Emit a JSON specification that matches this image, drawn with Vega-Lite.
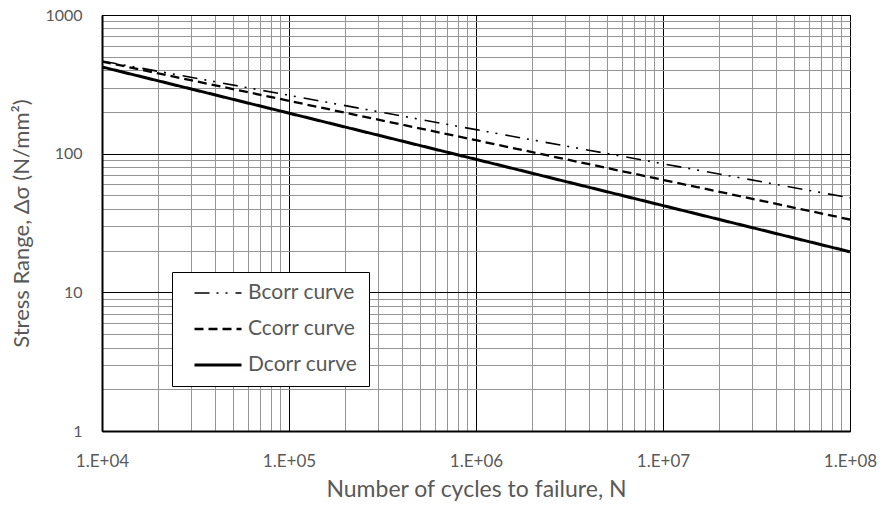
{
  "$schema": "https://vega.github.io/schema/vega-lite/v6.json",
  "width": 748,
  "height": 416,
  "autosize": "none",
  "padding": {"left": 102, "top": 15, "right": 36, "bottom": 79},
  "background": "white",
  "config": {
    "view": {"stroke": "#000", "strokeWidth": 1},
    "font": "Lato"
  },
  "data": {
    "values": [
      {"N": 10000, "S": 466, "curve": "Bcorr curve"},
      {"N": 1000000, "S": 149, "curve": "Bcorr curve"},
      {"N": 100000000, "S": 48, "curve": "Bcorr curve"},
      {"N": 10000, "S": 462, "curve": "Ccorr curve"},
      {"N": 1000000, "S": 125, "curve": "Ccorr curve"},
      {"N": 100000000, "S": 33.5, "curve": "Ccorr curve"},
      {"N": 10000, "S": 422, "curve": "Dcorr curve"},
      {"N": 1000000, "S": 91, "curve": "Dcorr curve"},
      {"N": 100000000, "S": 19.6, "curve": "Dcorr curve"}
    ]
  },
  "mark": {"type": "line", "color": "#000", "clip": true},
  "encoding": {
    "x": {
      "field": "N", "type": "quantitative",
      "scale": {"type": "log", "domain": [10000, 100000000], "nice": false},
      "title": "Number of cycles to failure, N",
      "axis": {
        "values": [10000,20000,30000,40000,50000,60000,70000,80000,90000,100000,200000,300000,400000,500000,600000,700000,800000,900000,1000000,2000000,3000000,4000000,5000000,6000000,7000000,8000000,9000000,10000000,20000000,30000000,40000000,50000000,60000000,70000000,80000000,90000000,100000000],
        "labelExpr": "abs(log(datum.value)/LN10 - round(log(datum.value)/LN10)) < 1e-6 ? '1.E+0' + round(log(datum.value)/LN10) : ''",
        "labelOverlap": false,
        "labelBound": false,
        "labelFlush": false,
        "labelFont": "Lato",
        "labelFontSize": 17,
        "labelColor": "#595959",
        "labelPadding": 22,
        "ticks": false,
        "domainColor": "#000",
        "domainWidth": 2,
        "grid": true,
        "gridColor": {"condition": {"test": "abs(log(datum.value)/LN10 - round(log(datum.value)/LN10)) < 1e-6", "value": "#000"}, "value": "#959595"},
        "gridOpacity": 1,
        "titleFont": "Lato",
        "titleFontSize": 23,
        "titleFontWeight": "normal",
        "titleColor": "#595959",
        "titlePadding": 9
      }
    },
    "y": {
      "field": "S", "type": "quantitative",
      "scale": {"type": "log", "domain": [1, 1000], "nice": false},
      "title": "Stress Range, Δσ (N/mm²)",
      "axis": {
        "values": [1,2,3,4,5,6,7,8,9,10,20,30,40,50,60,70,80,90,100,200,300,400,500,600,700,800,900,1000],
        "labelExpr": "abs(log(datum.value)/LN10 - round(log(datum.value)/LN10)) < 1e-6 ? format(datum.value, 'd') : ''",
        "labelOverlap": false,
        "labelBound": false,
        "labelFlush": false,
        "labelFont": "Lato",
        "labelFontSize": 16,
        "labelColor": "#595959",
        "labelPadding": 20,
        "ticks": false,
        "domainColor": "#000",
        "domainWidth": 2,
        "grid": true,
        "gridColor": {"condition": {"test": "abs(log(datum.value)/LN10 - round(log(datum.value)/LN10)) < 1e-6", "value": "#000"}, "value": "#959595"},
        "gridOpacity": 1,
        "titleFont": "Lato",
        "titleFontSize": 22,
        "titleFontWeight": "normal",
        "titleColor": "#595959",
        "titlePadding": 11
      }
    },
    "strokeDash": {
      "field": "curve", "type": "nominal",
      "scale": {"domain": ["Bcorr curve", "Ccorr curve", "Dcorr curve"], "range": [[15, 7, 2, 7, 2, 8], [9, 5], [1, 0]]},
      "legend": {
        "title": null,
        "orient": "none",
        "legendX": 70,
        "legendY": 257,
        "fillColor": "white",
        "strokeColor": "#000",
        "padding": 11,
        "symbolType": "stroke",
        "symbolSize": 2209,
        "symbolOffset": 10,
        "symbolStrokeColor": "#000",
        "symbolStrokeWidth": 2,
        "clipHeight": 20,
        "labelFont": "Lato",
        "labelFontSize": 21,
        "labelColor": "#595959",
        "labelOffset": 5,
        "rowPadding": 15
      }
    },
    "strokeWidth": {
      "field": "curve", "type": "nominal",
      "scale": {"domain": ["Bcorr curve", "Ccorr curve", "Dcorr curve"], "range": [1.6, 3, 1.8]},
      "legend": null
    }
  }
}
